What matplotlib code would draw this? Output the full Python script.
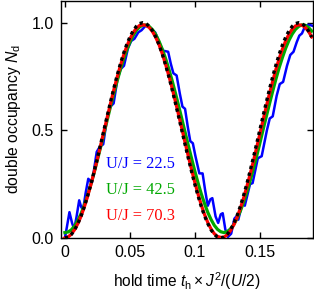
import numpy as np
import matplotlib
matplotlib.use("Agg")
import matplotlib.pyplot as plt

plt.rcParams['font.family'] = ['Liberation Sans', 'DejaVu Sans']
plt.rcParams['mathtext.fontset'] = 'custom'
plt.rcParams['mathtext.rm'] = 'Liberation Sans'
plt.rcParams['mathtext.it'] = 'Liberation Sans:italic'
plt.rcParams['mathtext.bf'] = 'Liberation Sans:bold'

# ---- data ----
t_grid = np.linspace(0.0, 0.19, 77)

theory_black = [0.0, 0.004, 0.017, 0.038, 0.067, 0.103, 0.146, 0.196, 0.25, 0.309, 0.371, 0.435, 0.5,
                0.565, 0.629, 0.691, 0.75, 0.804, 0.854, 0.897, 0.933, 0.962, 0.983, 0.996, 1.0,
                0.996, 0.983, 0.962, 0.933, 0.897, 0.854, 0.804, 0.75, 0.691, 0.629, 0.565, 0.5,
                0.435, 0.371, 0.309, 0.25, 0.196, 0.146, 0.103, 0.067, 0.038, 0.017, 0.004, 0.0,
                0.004, 0.017, 0.038, 0.067, 0.103, 0.146, 0.196, 0.25, 0.309, 0.371, 0.435, 0.5,
                0.565, 0.629, 0.691, 0.75, 0.804, 0.854, 0.897, 0.933, 0.962, 0.983, 0.996, 1.0,
                0.996, 0.983, 0.962, 0.933]

red_703 = [0.0, 0.005, 0.018, 0.039, 0.067, 0.102, 0.145, 0.194, 0.248, 0.306, 0.367, 0.43, 0.494,
           0.558, 0.622, 0.684, 0.742, 0.796, 0.845, 0.888, 0.924, 0.953, 0.974, 0.987, 0.99,
           0.988, 0.977, 0.958, 0.931, 0.897, 0.855, 0.807, 0.754, 0.697, 0.636, 0.573, 0.509,
           0.444, 0.38, 0.318, 0.259, 0.204, 0.153, 0.109, 0.072, 0.042, 0.02, 0.007, 0.003,
           0.004, 0.015, 0.034, 0.061, 0.095, 0.137, 0.184, 0.237, 0.294, 0.354, 0.417, 0.481,
           0.546, 0.609, 0.671, 0.729, 0.784, 0.834, 0.878, 0.916, 0.947, 0.97, 0.985, 0.99,
           0.988, 0.978, 0.96, 0.934]

green_425 = [0.025, 0.028, 0.038, 0.056, 0.082, 0.114, 0.154, 0.199, 0.249, 0.303, 0.362, 0.422, 0.484,
             0.546, 0.608, 0.667, 0.724, 0.778, 0.827, 0.871, 0.909, 0.940, 0.964, 0.980, 0.989,
             0.989, 0.982, 0.967, 0.944, 0.913, 0.876, 0.834, 0.785, 0.732, 0.675, 0.615, 0.554,
             0.492, 0.430, 0.370, 0.311, 0.256, 0.205, 0.160, 0.119, 0.086, 0.059, 0.040, 0.029,
             0.025, 0.030, 0.042, 0.062, 0.090, 0.124, 0.165, 0.212, 0.263, 0.319, 0.377, 0.438,
             0.501, 0.563, 0.623, 0.682, 0.739, 0.792, 0.839, 0.882, 0.918, 0.947, 0.969, 0.983,
             0.990, 0.988, 0.978, 0.961]

blue_t = [0.000, 0.0015, 0.0035, 0.0055, 0.0072, 0.009, 0.011, 0.0125, 0.014, 0.016, 0.018, 0.0195,
          0.021, 0.0245, 0.027, 0.0295, 0.0325, 0.035, 0.0375, 0.0405, 0.043, 0.0455, 0.0485, 0.051,
          0.0535, 0.0565, 0.059, 0.062, 0.065, 0.0675, 0.0695, 0.0725, 0.0755, 0.0795, 0.0815, 0.0835,
          0.086, 0.0885, 0.0905, 0.0925, 0.0945, 0.0965, 0.0985, 0.1005, 0.1035, 0.106, 0.108, 0.110,
          0.112, 0.1135, 0.116, 0.118, 0.120, 0.1215, 0.1235, 0.1255, 0.128, 0.1305, 0.132, 0.1335,
          0.1365, 0.1385, 0.1425, 0.1445, 0.1485, 0.1515, 0.1555, 0.1577, 0.160, 0.163, 0.1654, 0.168,
          0.171, 0.1735, 0.176, 0.1785, 0.1805, 0.1825, 0.185, 0.188, 0.191]
blue_v = [0.00, 0.05, 0.12, 0.07, 0.04, 0.10, 0.175, 0.145, 0.13, 0.21, 0.275, 0.265,
          0.26, 0.40, 0.425, 0.435, 0.56, 0.61, 0.625, 0.74, 0.785, 0.80, 0.88, 0.915,
          0.925, 0.955, 0.965, 0.985, 0.98, 0.965, 0.955, 0.91, 0.87, 0.865, 0.81, 0.765,
          0.755, 0.67, 0.61, 0.60, 0.52, 0.45, 0.44, 0.38, 0.30, 0.30, 0.22, 0.15,
          0.18, 0.185, 0.10, 0.07, 0.11, 0.115, 0.04, 0.005, 0.02, 0.09, 0.10, 0.085,
          0.16, 0.15, 0.25, 0.255, 0.37, 0.38, 0.50, 0.555, 0.565, 0.66, 0.715, 0.725,
          0.80, 0.85, 0.865, 0.91, 0.94, 0.95, 0.985, 0.99, 0.985]

legend_labels = ["U/J = 22.5", "U/J = 42.5", "U/J = 70.3"]
colors = ["#0000ff", "#00a800", "#ff0000"]
xticks = [0, 0.05, 0.1, 0.15]
xticklabels = ["0", "0.05", "0.1", "0.15"]
yticks = [0.0, 0.5, 1.0]
yticklabels = ["0.0", "0.5", "1.0"]

# ---- figure ----
fig = plt.figure(figsize=(3.14, 2.92), dpi=100)
ax = fig.add_axes([61/314, 54/292, 252/314, 237.5/292])

ax.plot(blue_t, blue_v, color=colors[0], lw=1.8, solid_joinstyle='round', zorder=2)
ax.plot(t_grid, green_425, color=colors[1], lw=2.3, zorder=3)
ax.plot(t_grid, red_703, color=colors[2], lw=2.3, zorder=4)
ax.plot(t_grid, theory_black, color='black', lw=2.4, linestyle=(0, (1.0, 1.1)), zorder=5)

ax.set_xlim(-0.003, 0.191)
ax.set_ylim(0.0, 1.103)
ax.set_xticks(xticks)
ax.set_xticklabels(xticklabels)
ax.set_yticks(yticks)
ax.set_yticklabels(yticklabels)
ax.tick_params(direction='in', top=True, right=True, length=4.5, width=1.0,
               labelsize=11.5, pad=5)
for s in ax.spines.values():
    s.set_linewidth(1.0)

ax.set_xlabel(r"hold time $t_\mathrm{h} \times J^2/(U/2)$", fontsize=11.2)
ax.set_ylabel(r"double occupancy $N_\mathrm{d}$", fontsize=11.3)
ax.yaxis.set_label_coords(-0.15, 0.5)
ax.xaxis.set_label_coords(0.5, -0.135)

ys = [0.31, 0.20, 0.093]
for lab, c, y in zip(legend_labels, colors, ys):
    ax.text(0.18, y, lab, transform=ax.transAxes, color=c, fontsize=11.8,
            family='Liberation Serif', va='center', ha='left')

fig.savefig("out.png", dpi=100)
